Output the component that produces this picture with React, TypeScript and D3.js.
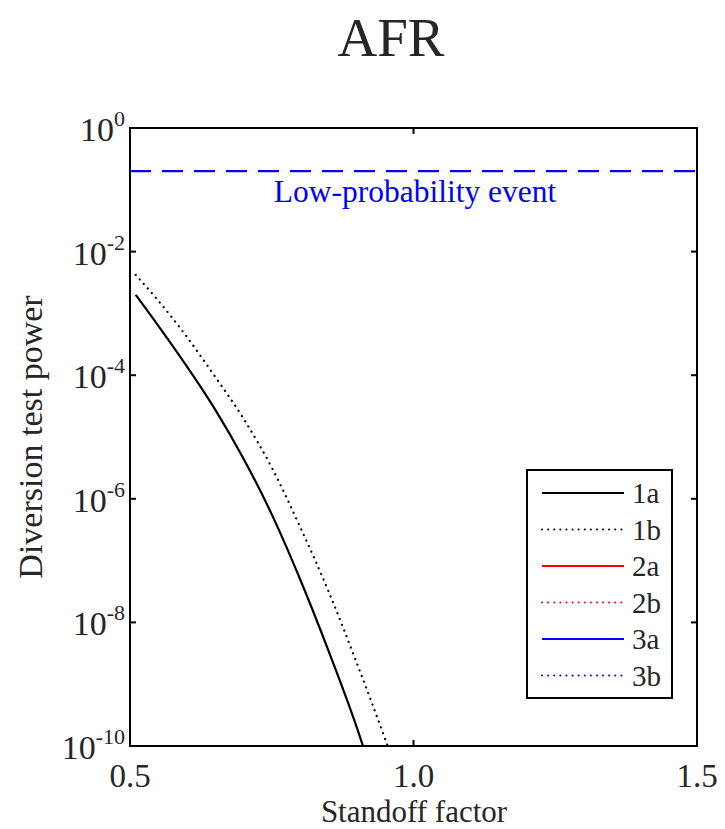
import React from "react";
import * as d3 from "d3";

const standoff1a = [0.51, 0.55, 0.6, 0.65, 0.7, 0.75, 0.8, 0.85, 0.9, 0.92];
const power1a = [2.0e-3, 6.3e-4, 1.4e-4, 2.8e-5, 4.5e-6, 5.6e-7, 5.0e-8, 3.5e-9, 2.0e-10, 5.6e-11];
const standoff1b = [0.51, 0.55, 0.6, 0.65, 0.7, 0.75, 0.8, 0.85, 0.9, 0.95, 0.97];
const power1b = [4.2e-3, 1.6e-3, 4.2e-4, 9.5e-5, 2.0e-5, 3.2e-6, 3.5e-7, 3.2e-8, 2.2e-9, 1.3e-10, 4.0e-11];
const lowProbability = 0.2;
const xTicks = [0.5, 1.0, 1.5];
const xTickLabels = ["0.5", "1.0", "1.5"];
const yTickExps = [0, -2, -4, -6, -8, -10];
const legendItems = [
  { label: "1a", color: "#000000", dotted: false },
  { label: "1b", color: "#000000", dotted: true },
  { label: "2a", color: "#ff0000", dotted: false },
  { label: "2b", color: "#ff0000", dotted: true },
  { label: "3a", color: "#0000ff", dotted: false },
  { label: "3b", color: "#0000ff", dotted: true },
];

const W = 725, H = 829;
const L = 130, R = 697, T = 128, B = 746;
const font = "'Liberation Serif', 'Times New Roman', serif";
const ink = "#262626";

export default function App() {
  const x = d3.scaleLinear().domain([0.5, 1.5]).range([L, R]);
  const y = d3.scaleLog().domain([1e-10, 1]).range([B, T]);
  const line = d3
    .line<[number, number]>()
    .x((d) => x(d[0]))
    .y((d) => y(d[1]))
    .curve(d3.curveMonotoneX);
  const d1a = line(standoff1a.map((s, i) => [s, power1a[i]]) as [number, number][]) || "";
  const d1b = line(standoff1b.map((s, i) => [s, power1b[i]]) as [number, number][]) || "";

  const lgX = 527, lgY = 470, lgW = 145, lgH = 228;
  return (
    <svg width={W} height={H} style={{ position: "absolute", left: 0, top: 0, background: "#fff" }}>
      <defs>
        <clipPath id="plot">
          <rect x={L} y={T} width={R - L} height={B - T} />
        </clipPath>
      </defs>
      <rect x={0} y={0} width={W} height={H} fill="#fff" />
      <text x={391} y={56} textAnchor="middle" fontFamily={font} fontSize={55} fill={ink}>
        AFR
      </text>
      <g clipPath="url(#plot)">
        <line
          x1={L}
          x2={R}
          y1={y(lowProbability)}
          y2={y(lowProbability)}
          stroke="#0000ff"
          strokeWidth={2.2}
          strokeDasharray="21 11"
        />
        <path d={d1a} fill="none" stroke="#000" strokeWidth={2.2} />
        <path d={d1b} fill="none" stroke="#000" strokeWidth={2.2} strokeDasharray="0.1 6" strokeLinecap="round" />
      </g>
      <text x={415} y={202} textAnchor="middle" fontFamily={font} fontSize={31.5} fill="#0000ff">
        Low-probability event
      </text>
      {yTickExps.map((e) => {
        const ty = y(Math.pow(10, e));
        return (
          <g key={e}>
            <line x1={L} x2={L + 6} y1={ty} y2={ty} stroke="#000" strokeWidth={2} />
            <line x1={R} x2={R - 6} y1={ty} y2={ty} stroke="#000" strokeWidth={2} />
            <text x={125} y={ty + 13} textAnchor="end" fontFamily={font} fontSize={34} fill={ink}>
              10
              <tspan dy={-15} fontSize={22}>
                {e}
              </tspan>
            </text>
          </g>
        );
      })}
      {xTicks.map((t, i) => (
        <g key={t}>
          <line x1={x(t)} x2={x(t)} y1={B} y2={B - 6} stroke="#000" strokeWidth={2} />
          <line x1={x(t)} x2={x(t)} y1={T} y2={T + 6} stroke="#000" strokeWidth={2} />
          <text x={x(t)} y={787} textAnchor="middle" fontFamily={font} fontSize={33} fill={ink}>
            {xTickLabels[i]}
          </text>
        </g>
      ))}
      <rect x={L} y={T} width={R - L} height={B - T} fill="none" stroke="#000" strokeWidth={2} />
      <text x={414} y={822} textAnchor="middle" fontFamily={font} fontSize={31} fill={ink}>
        Standoff factor
      </text>
      <text
        transform={`translate(42, ${(T + B) / 2}) rotate(-90)`}
        textAnchor="middle"
        fontFamily={font}
        fontSize={34}
        fill={ink}
      >
        Diversion test power
      </text>
      <rect x={lgX} y={lgY} width={lgW} height={lgH} fill="#fff" stroke="#000" strokeWidth={2} />
      {legendItems.map((it, i) => {
        const yy = lgY + 23 + i * 36.5;
        return (
          <g key={it.label}>
            <line
              x1={542}
              x2={624}
              y1={yy}
              y2={yy}
              stroke={it.color}
              strokeWidth={2}
              strokeDasharray={it.dotted ? "0.1 6" : undefined}
              strokeLinecap={it.dotted ? "round" : "butt"}
            />
            <text x={632} y={yy + 10} fontFamily={font} fontSize={29} fill={ink}>
              {it.label}
            </text>
          </g>
        );
      })}
    </svg>
  );
}
